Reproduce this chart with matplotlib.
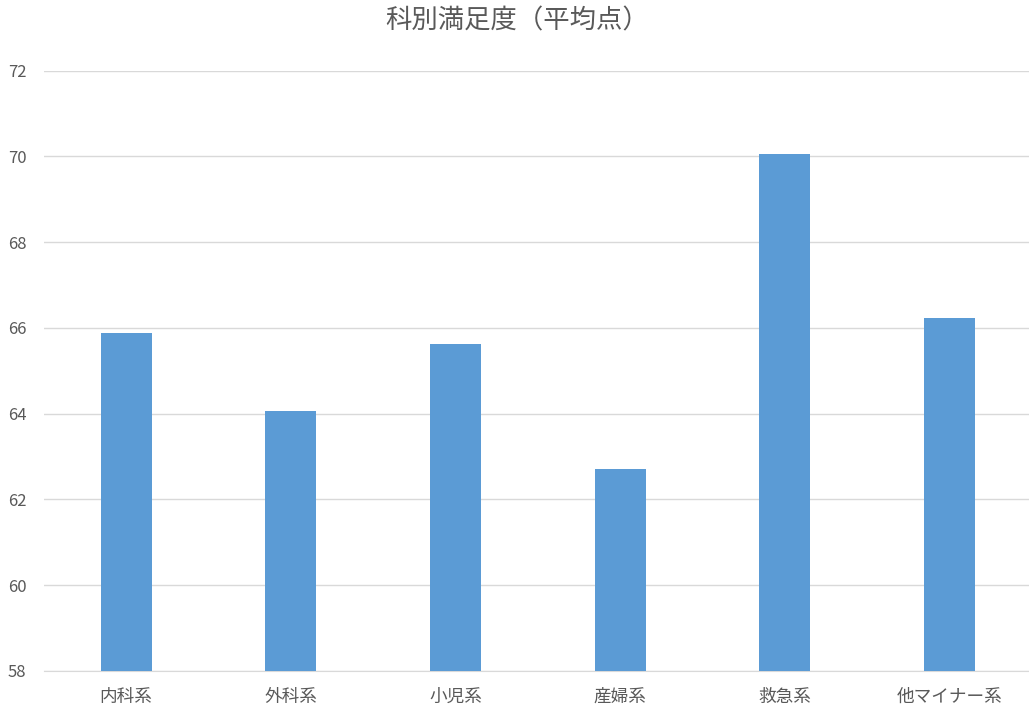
import matplotlib
matplotlib.use("Agg")
import matplotlib.pyplot as plt

plt.rcParams['font.family'] = ['Noto Sans CJK JP', 'DejaVu Sans']

# data
categories = ["内科系", "外科系", "小児系", "産婦系", "救急系", "他マイナー系"]
scores = [65.87, 64.05, 65.62, 62.72, 70.05, 66.22]
y_ticks = [58, 60, 62, 64, 66, 68, 70, 72]

bar_color = "#5B9BD5"
grid_color = "#D9D9D9"
text_color = "#595959"

fig = plt.figure(figsize=(10.29, 7.17), dpi=100)
ax = fig.add_axes([43.7 / 1029, 1 - 671 / 717, (1032 - 43.7) / 1029, (671 - 70.5) / 717])

x = list(range(len(categories)))
ax.bar(x, scores, width=0.31, color=bar_color, zorder=3)

ax.set_xlim(-0.5, len(categories) - 0.5)
ax.set_ylim(58, 72)
ax.set_yticks(y_ticks)
ax.set_xticks(x)
ax.set_xticklabels(categories)

ax.grid(axis="y", color=grid_color, linewidth=1.0, zorder=0)
for side in ["top", "right", "left"]:
    ax.spines[side].set_visible(False)
ax.spines["bottom"].set_color(grid_color)
ax.tick_params(axis="both", length=0, colors=text_color)
ax.tick_params(axis="y", pad=12.5, labelsize=12)
ax.tick_params(axis="x", pad=12, labelsize=12.7)

fig.text(517 / 1029, 1 - 21 / 717, "科別満足度（平均点）", ha="center", va="center",
         fontsize=19, color=text_color)

fig.savefig("out.png", dpi=100)
